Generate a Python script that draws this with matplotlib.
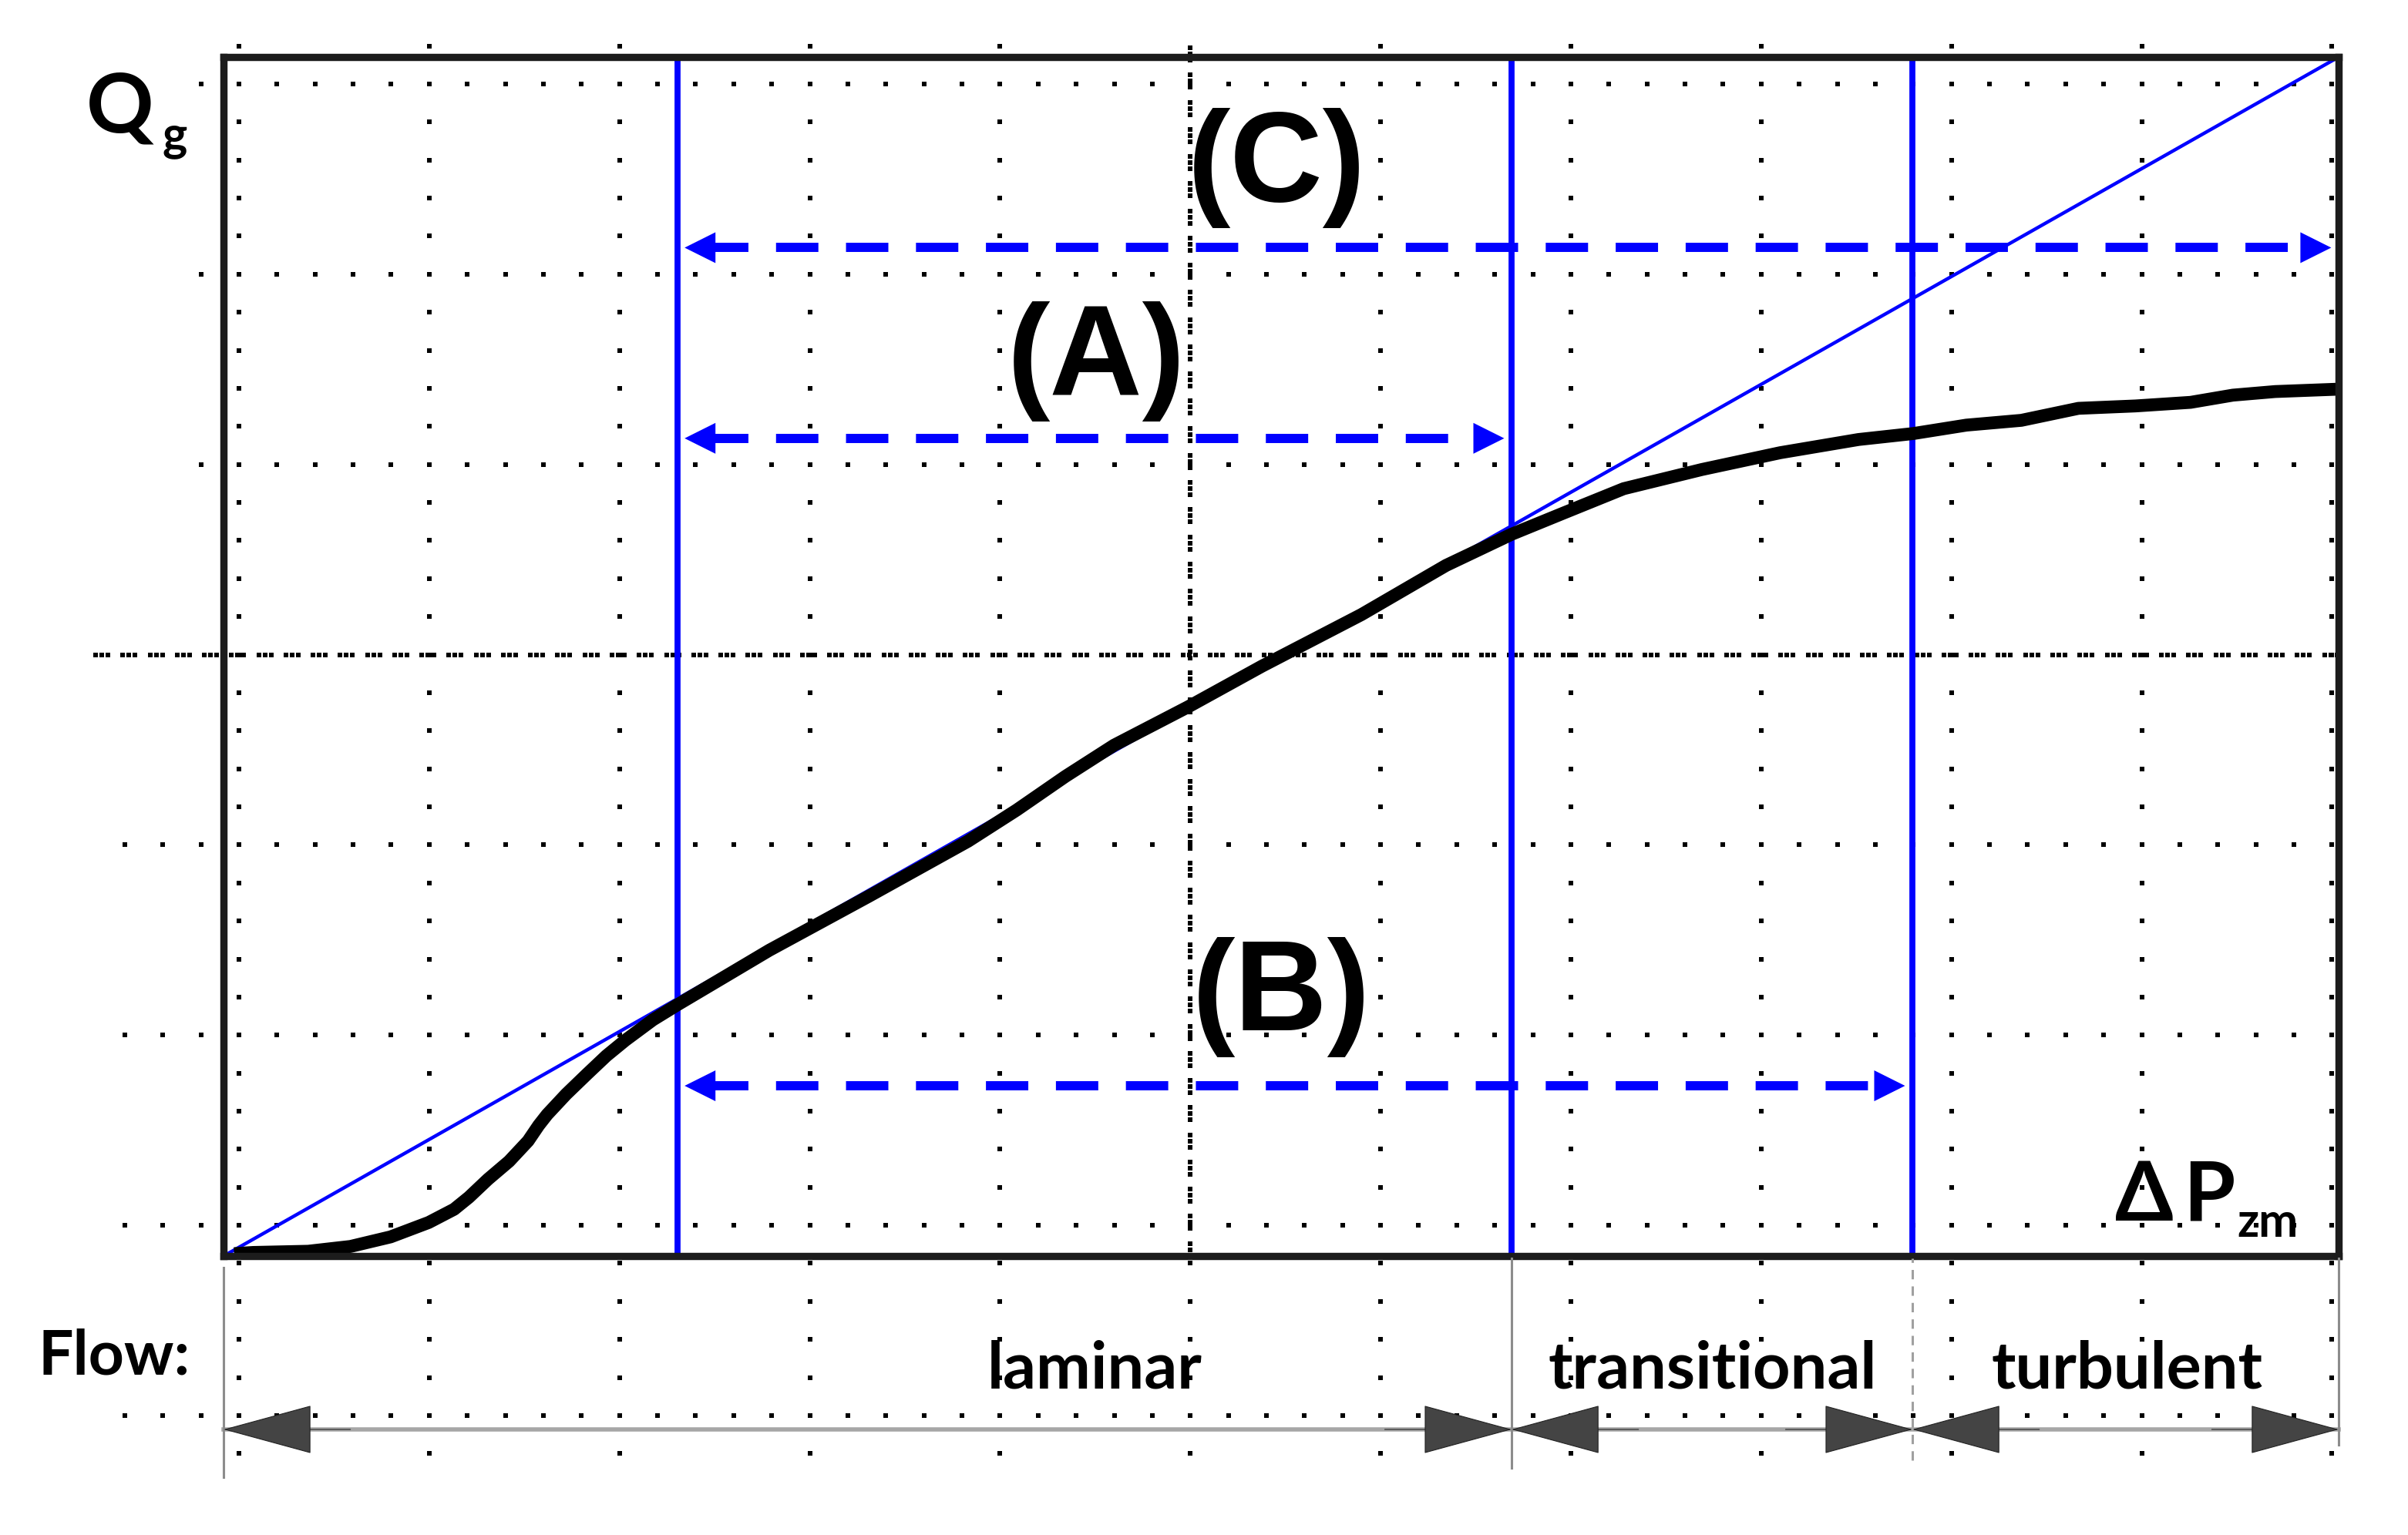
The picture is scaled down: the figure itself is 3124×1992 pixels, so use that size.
import numpy as np
import matplotlib
matplotlib.use('Agg')
import matplotlib.pyplot as plt
from matplotlib.patches import FancyArrowPatch, ArrowStyle

dp = [0.5, 1.4, 4.0, 6.0, 7.9, 9.7, 10.9, 11.6, 12.5, 13.5, 14.4, 14.9, 15.3,
      16.2, 17.2, 18.1, 19.0, 20.3, 21.5, 23.7, 25.8, 30.5, 35.2, 37.5, 39.8,
      42.1, 45.6, 49.1, 53.8, 57.8, 60.9, 63.4, 66.2, 69.9, 73.6, 77.3, 79.9,
      82.4, 85.0, 87.7, 90.4, 93.0, 95.0, 97.0, 100.0]
qg = [0.2, 0.3, 0.4, 0.8, 1.6, 2.8, 3.9, 4.9, 6.4, 7.9, 9.6, 10.9, 11.8,
      13.5, 15.2, 16.7, 18.0, 19.7, 21.0, 23.3, 25.5, 30.0, 34.6, 37.2, 40.0,
      42.6, 45.8, 49.2, 53.5, 57.6, 60.2, 62.0, 64.0, 65.6, 67.0, 68.1, 68.6,
      69.3, 69.7, 70.7, 70.9, 71.2, 71.8, 72.1, 72.3]

# straight (linear) reference line
diag_x = [0, 100]
diag_y = [0, 100]

# blue limits: start of (A)/(B)/(C), end of laminar, end of transitional
blue_x = [21.45, 60.9, 79.85]

arrow_names = ['(C)', '(A)', '(B)']
arrow_y = [84.1, 68.2, 14.2]
arrow_start = [21.45, 21.45, 21.45]
arrow_end = [100.0, 60.9, 79.85]
label_x = [49.8, 41.25, 50.0]
label_y = [88.0, 71.85, 18.8]

flow_names = ['laminar', 'transitional', 'turbulent']
flow_edges = [0.0, 60.9, 79.85, 100.0]
flow_label_x = [41.2, 70.4, 90.0]

W, H = 3124, 1992
fig = plt.figure(figsize=(W / 200, H / 200), dpi=200)

# background in pixel units: dotted graticule and loose labels
bg = fig.add_axes([0, 0, 1, 1])
bg.set_xlim(0, W)
bg.set_ylim(H, 0)
bg.axis('off')
bg.set_zorder(0)

step = 246.85
minor = step / 5
col_x = 310 + step * np.arange(12)
row_y = 109 + step * np.arange(8)
gx, gy = [], []
for i, y in enumerate(row_y):
    if i == 3:
        for t in np.arange(124, 3028, step / 7):
            for d in (0, 8, 16):
                gx.append(t + d); gy.append(y)
        continue
    x0 = col_x[0] - minor if i < 3 else col_x[0] - 3 * minor
    for x in np.arange(x0, 3028, minor):
        gx.append(x); gy.append(y)
for i, x in enumerate(col_x):
    if i == 5:
        for t in np.arange(62, 1625, step / 7):
            for d in (0, 8, 16):
                gx.append(x); gy.append(t + d)
        for y in np.arange(row_y[-2] + minor * 1, 1890, minor):
            gx.append(x); gy.append(y)
        continue
    for y in np.arange(row_y[0] - minor, 1890, minor):
        gx.append(x); gy.append(y)
bg.scatter(gx, gy, s=3.6, marker='s', color='black', linewidths=0)

calib = ['Lato', 'DejaVu Sans']
bg.text(112, 171, 'Q', fontsize=39, fontweight='bold', family=calib)
bg.text(210, 194, 'g', fontsize=22, fontweight='bold', family=calib)
dpt = bg.text(2744, 1584, 'Δ\u2009P', fontsize=39, fontweight='bold',
              family=calib)
fig.canvas.draw()
bb = dpt.get_window_extent().transformed(bg.transData.inverted())
bg.text(max(bb.x0, bb.x1) + 2, 1605, 'zm', fontsize=22, fontweight='bold',
        family=calib)
bg.text(50, 1783, 'Flow:', fontsize=29, fontweight='bold', family=calib)

# main frame
ax = fig.add_axes([290 / W, 1 - 1630 / H, 2744 / W, 1556 / H])
ax.set_zorder(1)
ax.set_facecolor('none')
ax.set_xlim(0, 100)
ax.set_ylim(0, 100)
ax.set_xticks([])
ax.set_yticks([])
for s in ax.spines.values():
    s.set_linewidth(3.4)
    s.set_color('#1c1c1c')

ax.plot(diag_x, diag_y, color='blue', lw=1.6)
for x in blue_x:
    ax.axvline(x, color='blue', lw=2.8)
ax.plot(dp, qg, color='black', lw=6.0, solid_capstyle='butt',
        solid_joinstyle='round')

head = ArrowStyle('-|>', head_length=14.4, head_width=7.2)
for name, y, x0, x1, lx, ly in zip(arrow_names, arrow_y, arrow_start,
                                    arrow_end, label_x, label_y):
    a, b = x0 + 0.35, x1 - 0.35
    ax.plot([a + 1.0, b - 1.0], [y, y], color='blue', lw=4.3,
            ls=(0, (4.6, 3.0)), solid_capstyle='butt')
    for tip, back in ((a, a + 3), (b, b - 3)):
        ax.add_patch(FancyArrowPatch((back, y), (tip, y), arrowstyle=head,
                                     mutation_scale=1, color='blue', lw=0,
                                     shrinkA=0, shrinkB=0))
    ax.text(lx, ly, name, ha='center', va='baseline', fontsize=60,
            fontweight='bold', family='Liberation Sans')

# flow regimes strip below the frame
fa = fig.add_axes([290 / W, 1 - 1920 / H, 2744 / W, 287 / H], sharex=ax)
fa.set_zorder(1)
fa.set_facecolor('none')
fa.set_ylim(0, 1)
fa.axis('off')

fa.plot([0, 0], [0.01, 0.958], color='#8c8c8c', lw=1.1, clip_on=False)
fa.plot([flow_edges[1]] * 2, [0.052, 1.0], color='#8c8c8c', lw=1.1, clip_on=False)
fa.plot([flow_edges[2]] * 2, [0.087, 1.0], color='#a0a0a0', lw=1.1,
        ls=(0, (4, 3)), clip_on=False)
fa.plot([100, 100], [0.157, 1.0], color='#8c8c8c', lw=1.1, clip_on=False)

ry = 0.2265
fa.plot([flow_edges[0], flow_edges[-1]], [ry, ry], color='#a6a6a6', lw=2.0,
        clip_on=False, zorder=1)
big = ArrowStyle('-|>', head_length=39.6, head_width=10.8)
for i, name in enumerate(flow_names):
    x0, x1 = flow_edges[i], flow_edges[i + 1]
    for tip, back in ((x0, x0 + 6), (x1, x1 - 6)):
        fa.add_patch(FancyArrowPatch((back, ry), (tip, ry), arrowstyle=big,
                                     mutation_scale=1, fc='#444444',
                                     ec='#222222', lw=0.4, shrinkA=0,
                                     shrinkB=0, clip_on=False, zorder=3))
    fa.text(flow_label_x[i], 0.4146, name, ha='center', va='baseline',
            fontsize=30.5, fontweight='bold', family=calib)

fig.savefig('out.png', dpi=200)
